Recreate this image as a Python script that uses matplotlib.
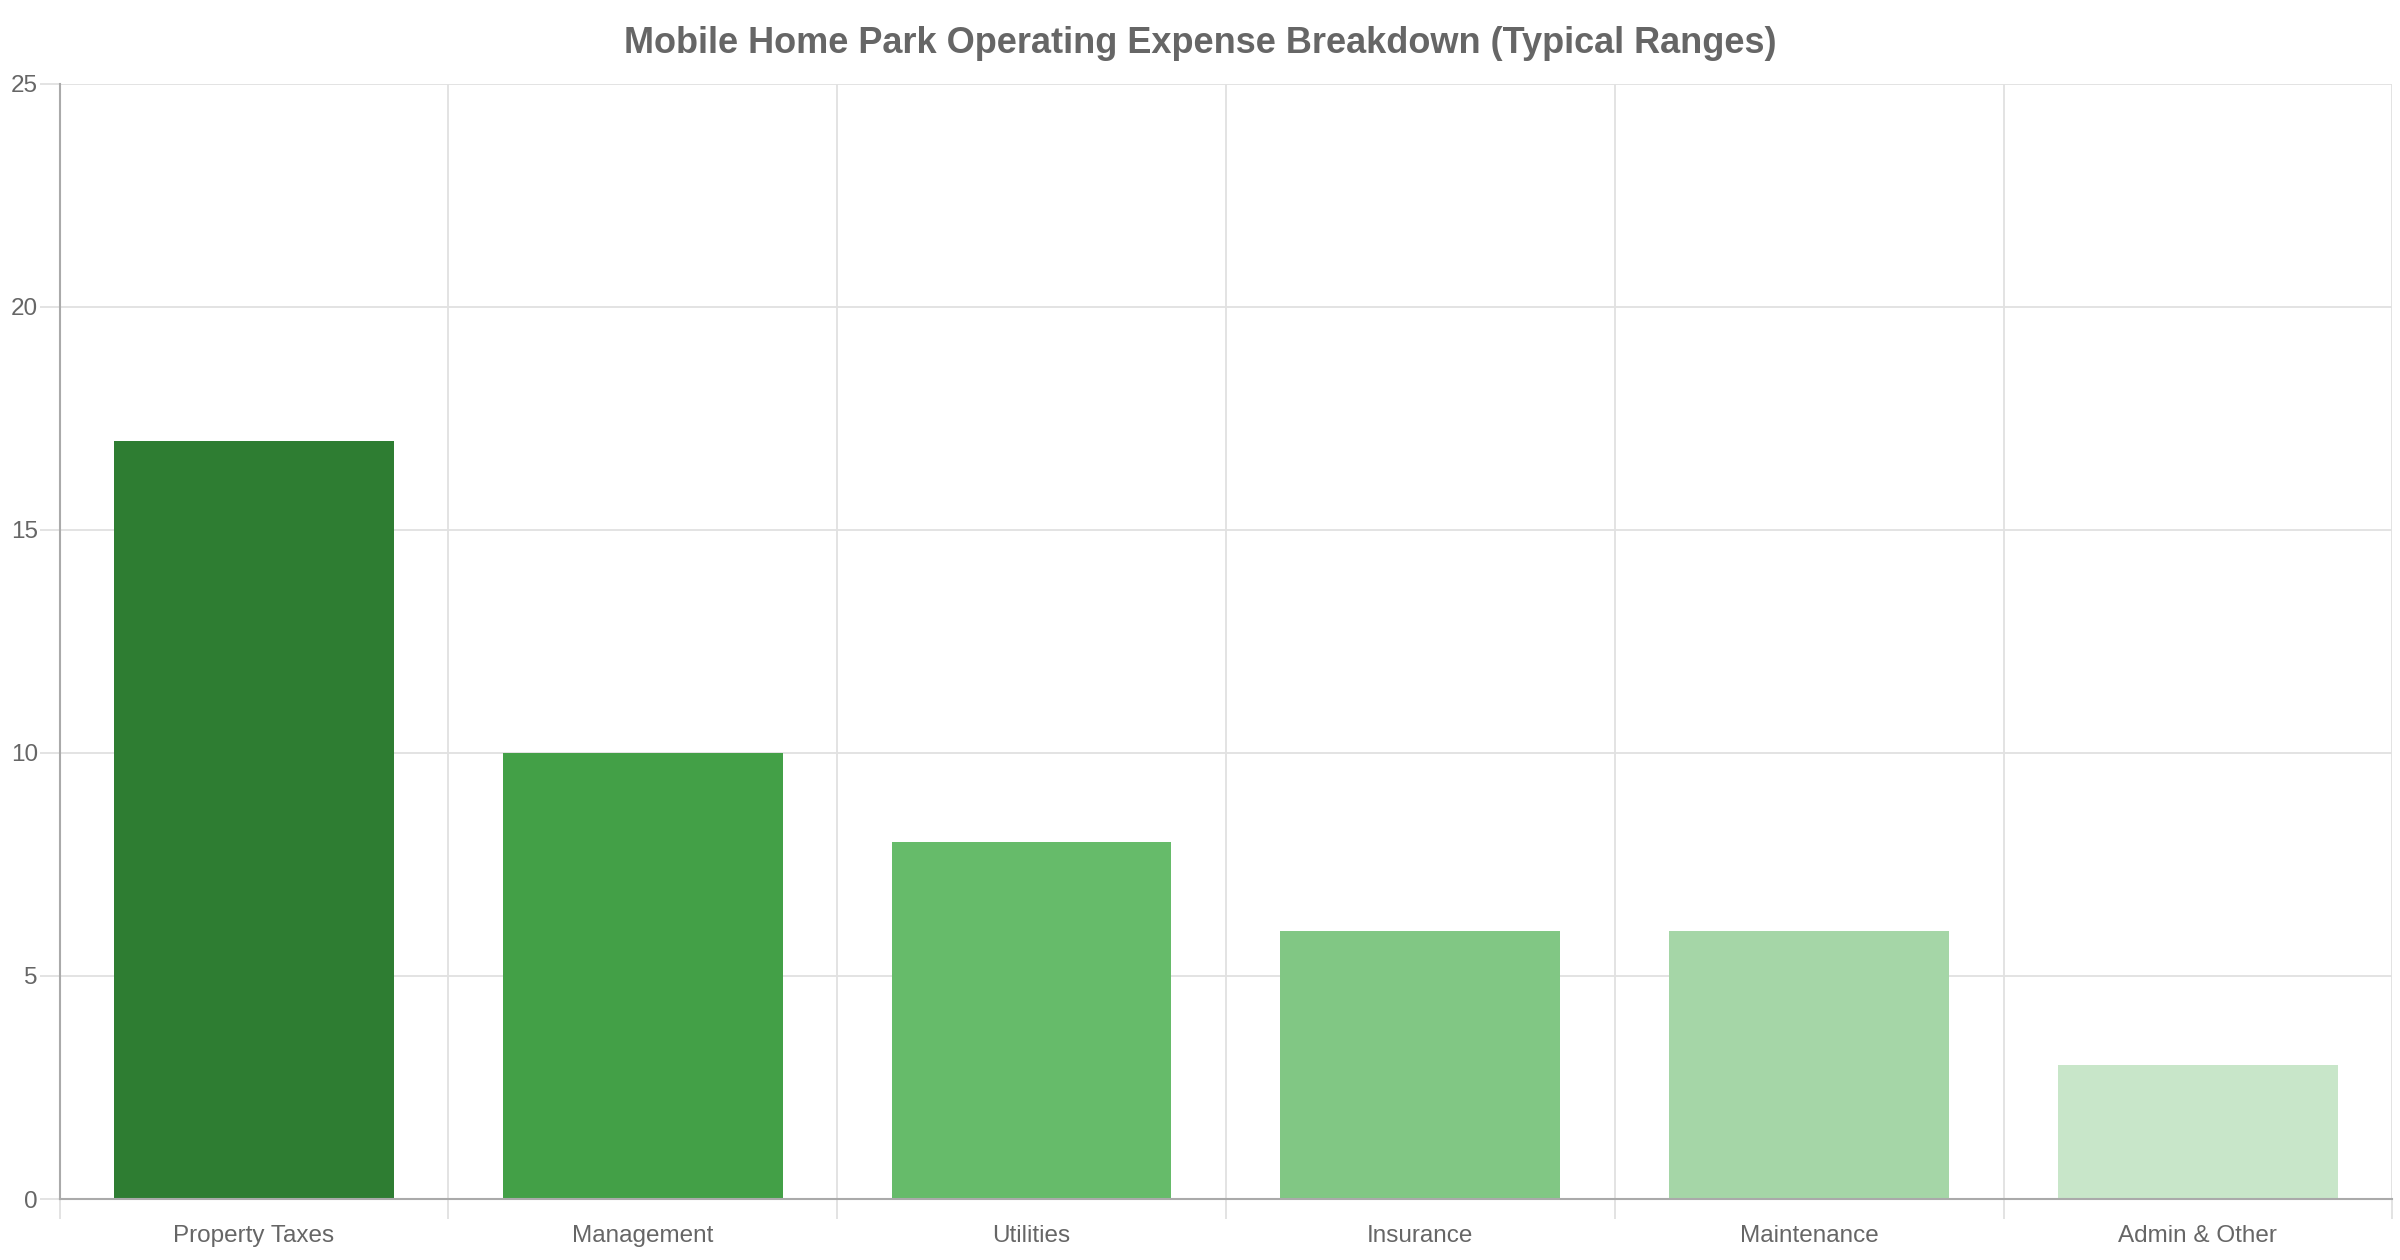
import numpy as np
import matplotlib
matplotlib.use("Agg")
import matplotlib.pyplot as plt

plt.rcParams['font.family'] = ['Liberation Sans', 'DejaVu Sans']

categories = ["Property Taxes", "Management", "Utilities", "Insurance", "Maintenance", "Admin & Other"]
values = [17, 10, 8, 6, 6, 3]
colors = ["#2E7D32", "#43A047", "#66BB6A", "#81C784", "#A5D6A7", "#C8E6C9"]
y_ticks = [0, 5, 10, 15, 20, 25]

text_color = "#666666"
grid_color = "#e1e1e1"
axis_color = "#aaaaaa"

fig = plt.figure(figsize=(24, 12.6), dpi=100)
ax = fig.add_axes([0.0248, 0.0484, 0.9720, 0.8850])

x = np.arange(len(categories))
ax.bar(x, values, width=0.72, color=colors, zorder=3)

ax.set_xlim(-0.5, len(categories) - 0.5)
ax.set_ylim(0, 25)

# category labels at centres, grid/tick marks at the boundaries
ax.set_xticks(x)
ax.set_xticklabels(categories, fontsize=17.5, color=text_color)
ax.tick_params(axis='x', which='major', length=0, pad=19)
ax.set_xticks(np.arange(-0.5, len(categories)), minor=True)
ax.tick_params(axis='x', which='minor', length=14.5, width=1.3, color=grid_color)
ax.grid(axis='x', which='minor', color=grid_color, linewidth=1.3, zorder=0)

ax.set_yticks(y_ticks)
ax.set_yticklabels([str(v) for v in y_ticks], fontsize=17.5, color=text_color)
ax.tick_params(axis='y', length=14.5, width=1.3, color=grid_color, pad=1)
ax.grid(axis='y', color=grid_color, linewidth=1.3, zorder=0)

for side in ['top', 'right']:
    ax.spines[side].set_visible(False)
for side in ['left', 'bottom']:
    ax.spines[side].set_color(axis_color)
    ax.spines[side].set_linewidth(1.5)
    ax.spines[side].set_zorder(4)

fig.text(0.5, 0.9655, "Mobile Home Park Operating Expense Breakdown (Typical Ranges)",
         ha='center', va='center', fontsize=26, fontweight='bold', color=text_color)

fig.savefig("out.png", dpi=100)
